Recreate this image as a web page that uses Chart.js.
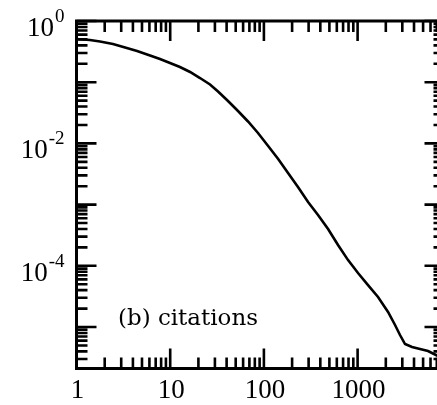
<!DOCTYPE html>
<html>
<head>
<meta charset="utf-8">
<script src="https://cdn.jsdelivr.net/npm/chart.js@4.4.1/dist/chart.umd.min.js"></script>
<style>
  html, body { margin: 0; padding: 0; background: #fff; overflow: hidden; }
  #wrap { width: 460px; height: 405px; }
</style>
</head>
<body>
<div id="wrap"><canvas id="citeChart" width="460" height="405"></canvas></div>

<script>
// number of citations k, and fraction of papers cited at least k times
var citations = [1, 1.39, 1.78, 2.45, 3.3, 4.43, 6.09, 7.78, 9.95, 12.7, 16.3, 20.8, 26.6, 32.4,
                 41.4, 52.9, 67.7, 86.5, 111, 142, 181, 231, 296, 378, 484, 618, 791, 1010,
                 1292, 1652, 2113, 2509, 2835, 3206, 3809, 4634, 5644, 6535, 7207];
var fraction  = [0.508, 0.489, 0.462, 0.421, 0.369, 0.324, 0.273, 0.239, 0.206, 0.177, 0.147,
                 0.117, 0.0917, 0.0705, 0.0493, 0.0338, 0.0228, 0.0148, 0.00907, 0.00556,
                 0.00328, 0.00194, 0.0011, 6.76e-4, 3.99e-4, 2.19e-4, 1.24e-4, 7.62e-5,
                 4.85e-5, 3.09e-5, 1.76e-5, 1.08e-5, 7.4e-6, 5.27e-6, 4.71e-6, 4.37e-6,
                 4.06e-6, 3.62e-6, 3.36e-6];

// axis ranges
var xRange = [1, 8460];
var yRange = [2.1e-6, 1];

// labelled ticks
var xTicks = [1, 10, 100, 1000];
var xTickLabels = ["1", "10", "100", "1000"];
var yTicks = [1, 1e-2, 1e-4];
var yTickExps = ["0", "-2", "-4"];

var panelLabel = "(b) citations";

var points = [];
for (var i = 0; i < citations.length; i++) {
    points.push({x: citations[i], y: fraction[i]});
}

//------------------------------------------------------------------------------------------
// box frame, inward ticks on all four sides, tick labels and the panel label
//------------------------------------------------------------------------------------------
var framePlugin = {
    id: 'frame',
    afterDatasetsDraw: function(chart) {
        var ctx = chart.ctx;
        var a = chart.chartArea;
        var xs = chart.scales.x, ys = chart.scales.y;
        var MAJOR = 20, MINOR = 11;

        ctx.save();
        ctx.strokeStyle = '#000';
        ctx.fillStyle = '#000';

        ctx.lineWidth = 3;
        ctx.strokeRect(a.left, a.top, a.right - a.left, a.bottom - a.top);

        ctx.lineWidth = 2.6;
        ctx.beginPath();
        // x: decades with minor ticks 2..9
        for (var e = 0; e <= 4; e++) {
            var d = Math.pow(10, e);
            for (var m = 1; m < 10; m++) {
                var v = d * m;
                if (v < xs.min || v > xs.max) continue;
                var px = xs.getPixelForValue(v);
                var len = (m === 1) ? MAJOR : MINOR;
                ctx.moveTo(px, a.bottom); ctx.lineTo(px, a.bottom - len);
                ctx.moveTo(px, a.top);    ctx.lineTo(px, a.top + len);
            }
        }
        // y: same on left and right
        for (var e = -6; e <= 0; e++) {
            var d = Math.pow(10, e);
            for (var m = 1; m < 10; m++) {
                var v = d * m;
                if (v < ys.min || v > ys.max * 1.0001) continue;
                var py = ys.getPixelForValue(v);
                var len = (m === 1) ? MAJOR : MINOR;
                ctx.moveTo(a.left, py);  ctx.lineTo(a.left + len, py);
                ctx.moveTo(a.right, py); ctx.lineTo(a.right - len, py);
            }
        }
        ctx.stroke();

        // x tick labels
        ctx.font = '27px "Liberation Serif"';
        ctx.textAlign = 'center';
        ctx.textBaseline = 'alphabetic';
        for (var i = 0; i < xTicks.length; i++) {
            ctx.fillText(xTickLabels[i], xs.getPixelForValue(xTicks[i]) + 1, a.bottom + 29.5);
        }

        // y tick labels as 10 with a raised exponent
        ctx.textAlign = 'left';
        var rightEdge = a.left - 12;
        for (var i = 0; i < yTicks.length; i++) {
            var py = ys.getPixelForValue(yTicks[i]);
            ctx.font = '27px "Liberation Serif"';
            var wBase = ctx.measureText("10").width;
            ctx.font = '19px "Liberation Serif"';
            var wExp = ctx.measureText(yTickExps[i]).width;
            var x0 = rightEdge - wExp - wBase - 1;
            ctx.fillText(yTickExps[i], x0 + wBase + 1, py + 1);
            ctx.font = '27px "Liberation Serif"';
            ctx.fillText("10", x0, py + 15);
        }

        // panel label
        ctx.font = '23px "DejaVu Serif"';
        var w = ctx.measureText(panelLabel).width;
        ctx.translate(118, 325);
        ctx.scale(140 / w, 1);
        ctx.fillText(panelLabel, 0, 0);
        ctx.restore();
    }
};

var ctxC = document.getElementById("citeChart").getContext('2d');
var citeChart = new Chart(ctxC, {
    type: 'line',
    data: {
        datasets: [{
            data: points,
            borderColor: '#000',
            borderWidth: 2.6,
            pointRadius: 0,
            tension: 0,
            fill: false
        }]
    },
    options: {
        responsive: false,
        animation: false,
        devicePixelRatio: 1,
        layout: { padding: { left: 76.5, top: 21, right: 15.5, bottom: 36.5 } },
        plugins: { legend: { display: false }, tooltip: { enabled: false } },
        scales: {
            x: { type: 'logarithmic', min: xRange[0], max: xRange[1], display: false },
            y: { type: 'logarithmic', min: yRange[0], max: yRange[1], display: false }
        }
    },
    plugins: [framePlugin]
});
</script>
</body>
</html>
